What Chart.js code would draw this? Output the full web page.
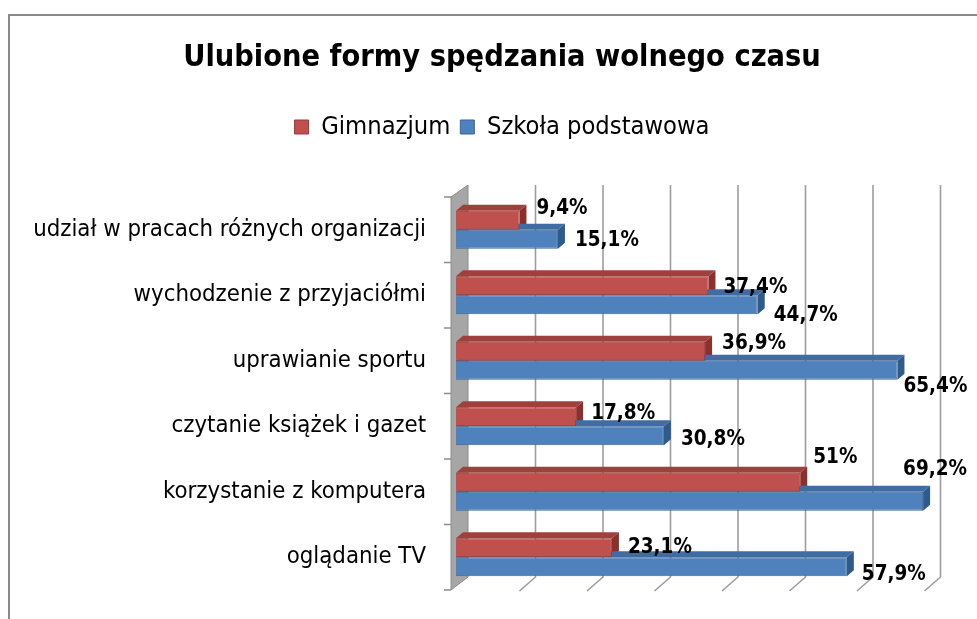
<!DOCTYPE html>
<html>
<head>
<meta charset="utf-8">
<script src="https://cdn.jsdelivr.net/npm/chart.js@4"></script>
<style>
  html, body { margin: 0; padding: 0; background: #fff; overflow: hidden; }
  #wrap { position: absolute; left: 0; top: 0; width: 1010px; height: 619px; }
</style>
</head>
<body>
<div id="wrap"><canvas id="myChart"></canvas></div>
<script>
const categories = [
  'udział w pracach różnych organizacji',
  'wychodzenie z przyjaciółmi',
  'uprawianie sportu',
  'czytanie książek i gazet',
  'korzystanie z komputera',
  'oglądanie TV'
]
const gimnazjum = [9.4, 37.4, 36.9, 17.8, 51, 23.1]
const podstawowa = [15.1, 44.7, 65.4, 30.8, 69.2, 57.9]
const gridValues = [0, 10, 20, 30, 40, 50, 60, 70, 80]

const titleText = 'Ulubione formy spędzania wolnego czasu'
const fontFamily = "'Liberation Sans Narrow', 'DejaVu Sans Condensed', sans-serif"

// label nudges (dx from bar end, dy from bar middle), the way excel scattered them
const labelNudge = [
  [[17, -12], [15, 2], [17, -8], [15, -3], [13, -25], [16, 0]],
  [[17, 1], [16, 11], [6, 16], [17, 4], [-20, -32], [15, 8]]
]

// 3d look
const depth = { dx: 7, dy: -6 }
const back = { dx: 12, dy: -13 }
const floorShift = -4
const faceColors = [
  { top: '#a0403d', side: '#8a302d' },
  { top: '#3f6ca3', side: '#2f5a8c' }
]

var measureCtx = document.createElement('canvas').getContext('2d')
function textW(text, weight, size) {
  measureCtx.font = weight + ' ' + size + 'px ' + fontFamily
  return measureCtx.measureText(text).width
}
function fitSize(text, weight, width) {
  return 100 * width / textW(text, weight, 100)
}

var titleSize = fitSize(titleText, 'bold', 638)
var axisSize = fitSize(categories[0], 'normal', 393)
var valueSize = fitSize('15,1%', 'bold', 64)
// whole legend row spans ~415px: 2 boxes (14) + 1 gap (10) + 2 half-font gaps + texts
var legendRatio = (textW('Gimnazjum', 'normal', 100) + textW('Szkoła podstawowa', 'normal', 100)) / 100
var legendSize = (415 - 38) / (legendRatio + 1)

var titlePadTop = 58.5 - 0.6 * titleSize
var itemH = Math.max(legendSize, 14)
var legendTop = 117 - itemH / 2
var titlePadBottom = legendTop - (titlePadTop + 1.2 * titleSize)
var legendBottom = legendTop + itemH + 20
var topGap = 197 - legendBottom

function fmt(v) {
  return String(v).replace('.', ',') + '%'
}

const excel3d = {
  id: 'excel3d',
  beforeDraw(chart) {
    const ctx = chart.ctx
    ctx.save()
    ctx.strokeStyle = '#8a8a8a'
    ctx.lineWidth = 2
    ctx.beginPath()
    ctx.moveTo(9, 619)
    ctx.lineTo(9, 15)
    ctx.lineTo(1010, 15)
    ctx.stroke()
    ctx.restore()
  },
  beforeDatasetsDraw(chart) {
    const ctx = chart.ctx
    const area = chart.chartArea
    const xs = chart.scales.x
    const p0 = xs.getPixelForValue(0)
    const topB = area.top + back.dy + 1
    const botB = area.bottom + back.dy
    ctx.save()

    // gridlines on the back wall + floor ticks
    ctx.strokeStyle = '#9d9d9d'
    ctx.lineWidth = 1.6
    gridValues.forEach(v => {
      if (v === 0) return
      const px = xs.getPixelForValue(v)
      ctx.beginPath()
      ctx.moveTo(px + back.dx, topB)
      ctx.lineTo(px + back.dx, botB)
      ctx.lineTo(px + floorShift, area.bottom + 1)
      ctx.stroke()
    })

    // side wall
    const wf = p0 - 5
    ctx.fillStyle = '#a6a6a6'
    ctx.beginPath()
    ctx.moveTo(wf, area.top)
    ctx.lineTo(p0 + back.dx, topB)
    ctx.lineTo(p0 + back.dx, botB)
    ctx.lineTo(wf, area.bottom)
    ctx.closePath()
    ctx.fill()
    ctx.strokeStyle = '#8c8c8c'
    ctx.lineWidth = 1
    ctx.stroke()

    // category ticks
    ctx.strokeStyle = '#8c8c8c'
    ctx.lineWidth = 1.5
    for (let i = 0; i <= categories.length; i++) {
      const y = area.top + (area.bottom - area.top) * i / categories.length
      ctx.beginPath()
      ctx.moveTo(wf - 7, y)
      ctx.lineTo(wf, y)
      ctx.stroke()
    }

    // top and side faces of the bars
    chart.data.datasets.forEach((ds, di) => {
      const meta = chart.getDatasetMeta(di)
      meta.data.forEach(bar => {
        const x0 = bar.base
        const x1 = bar.x
        const t = bar.y - bar.height / 2
        const b = bar.y + bar.height / 2
        ctx.fillStyle = faceColors[di].top
        ctx.beginPath()
        ctx.moveTo(x0, t)
        ctx.lineTo(x0 + depth.dx, t + depth.dy)
        ctx.lineTo(x1 + depth.dx, t + depth.dy)
        ctx.lineTo(x1, t)
        ctx.closePath()
        ctx.fill()
        ctx.fillStyle = faceColors[di].side
        ctx.beginPath()
        ctx.moveTo(x1, t)
        ctx.lineTo(x1 + depth.dx, t + depth.dy)
        ctx.lineTo(x1 + depth.dx, b + depth.dy)
        ctx.lineTo(x1, b)
        ctx.closePath()
        ctx.fill()
      })
    })
    ctx.restore()
  },
  afterDatasetsDraw(chart) {
    const ctx = chart.ctx
    ctx.save()
    ctx.font = 'bold ' + valueSize + 'px ' + fontFamily
    ctx.fillStyle = '#000'
    ctx.textAlign = 'left'
    ctx.textBaseline = 'middle'
    chart.data.datasets.forEach((ds, di) => {
      chart.getDatasetMeta(di).data.forEach((bar, i) => {
        const n = labelNudge[di][i]
        ctx.fillText(fmt(ds.data[i]), bar.x + n[0], bar.y + n[1])
      })
    })
    ctx.restore()
  }
}

var myChart = new Chart(document.querySelector('#myChart').getContext('2d'), {
  type: 'bar',
  data: {
    labels: categories,
    datasets: [{
      label: 'Gimnazjum',
      data: gimnazjum,
      backgroundColor: '#c0504d',
      borderColor: '#9a3b38',
      borderWidth: 1
    }, {
      label: 'Szkoła podstawowa',
      data: podstawowa,
      backgroundColor: '#4f81bd',
      borderColor: '#3a6597',
      borderWidth: 1
    }]
  },
  options: {
    indexAxis: 'y',
    responsive: true,
    maintainAspectRatio: false,
    animation: false,
    categoryPercentage: 0.58,
    barPercentage: 1,
    layout: { padding: { left: 8, right: 14, top: 0, bottom: 29 } },
    plugins: {
      title: {
        display: true,
        text: titleText,
        color: '#000',
        font: { family: fontFamily, size: titleSize, weight: 'bold' },
        padding: { top: titlePadTop, bottom: titlePadBottom }
      },
      legend: {
        display: true,
        labels: {
          color: '#000',
          boxWidth: 14,
          boxHeight: 14,
          padding: 10,
          font: { family: fontFamily, size: legendSize }
        }
      },
      tooltip: { enabled: false }
    },
    scales: {
      x: {
        position: 'top',
        min: 0,
        max: 80,
        ticks: { display: false, stepSize: 10 },
        grid: { display: false, drawTicks: false },
        border: { display: false },
        afterFit: s => { s.height = topGap }
      },
      y: {
        ticks: {
          color: '#000',
          padding: 12,
          font: { family: fontFamily, size: axisSize }
        },
        grid: { display: false, drawTicks: true, tickLength: 18 },
        border: { display: false },
        afterFit: s => { s.width = 448 }
      }
    }
  },
  plugins: [excel3d]
})
</script>
</body>
</html>
